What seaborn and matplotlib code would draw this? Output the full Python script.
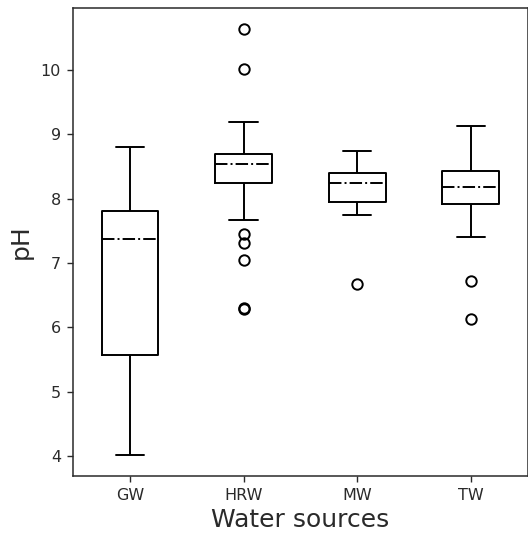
import matplotlib
matplotlib.use("Agg")
import matplotlib.pyplot as plt
import seaborn as sns
import pandas as pd

# Values (each list reproduces the drawn box statistics:
# whisker ends, quartiles, median and outliers)
categories = ["GW", "HRW", "MW", "TW"]
gw_ph = [4.02, 5.57, 7.38, 7.81, 8.80]
hrw_ph = [6.28, 6.30, 7.05, 7.32, 7.46, 7.67,
          8.245,
          8.54, 8.54, 8.54, 8.54, 8.54, 8.54,
          8.70, 8.70, 8.70, 8.70, 8.70, 8.70,
          8.70, 8.70, 8.70,
          9.19, 10.02, 10.64]
mw_ph = [6.67, 7.75, 7.95, 8.245, 8.245, 8.405, 8.405, 8.405, 8.75]
tw_ph = [6.13, 6.73, 7.40, 7.92, 8.18, 8.18, 8.18,
         8.43, 8.43, 8.43, 8.43, 8.43, 9.135]

series = {"GW": gw_ph, "HRW": hrw_ph, "MW": mw_ph, "TW": tw_ph}
df = pd.DataFrame(
    [(cat, v) for cat in categories for v in series[cat]],
    columns=["Water sources", "pH"],
)

sns.set_style("ticks")
plt.rcParams["font.family"] = ["DejaVu Sans"]

fig = plt.figure(figsize=(5.28, 5.44), dpi=100)
ax = fig.add_axes([73.3 / 528, 67.8 / 544, (527.5 - 73.3) / 528, (476.2 - 7.6) / 544])

lw = 1.4
sns.boxplot(
    data=df, x="Water sources", y="pH", order=categories,
    fill=False, color="black", width=0.5, linewidth=lw, whis=1.5,
    medianprops=dict(linestyle="-.", color="black", linewidth=lw),
    boxprops=dict(color="black", linewidth=lw),
    whiskerprops=dict(color="black", linewidth=lw),
    capprops=dict(color="black", linewidth=lw),
    flierprops=dict(marker="o", markerfacecolor="none", markeredgecolor="black",
                    markersize=7.5, markeredgewidth=1.4),
    ax=ax,
)

ax.set_xlim(-0.5, 3.5)
ax.set_yticks([4, 5, 6, 7, 8, 9, 10])
ax.tick_params(axis="both", labelsize=11.5, colors="#2a2a2a", length=4.3, width=1.0, pad=4.5)
ax.set_xlabel("Water sources", fontsize=18, color="#2a2a2a", labelpad=3)
ax.set_ylabel("pH", fontsize=18, color="#2a2a2a", labelpad=6)
for s in ax.spines.values():
    s.set_visible(True)
    s.set_color("#2a2a2a")
    s.set_linewidth(1.1)

fig.savefig("out.png", dpi=100)
